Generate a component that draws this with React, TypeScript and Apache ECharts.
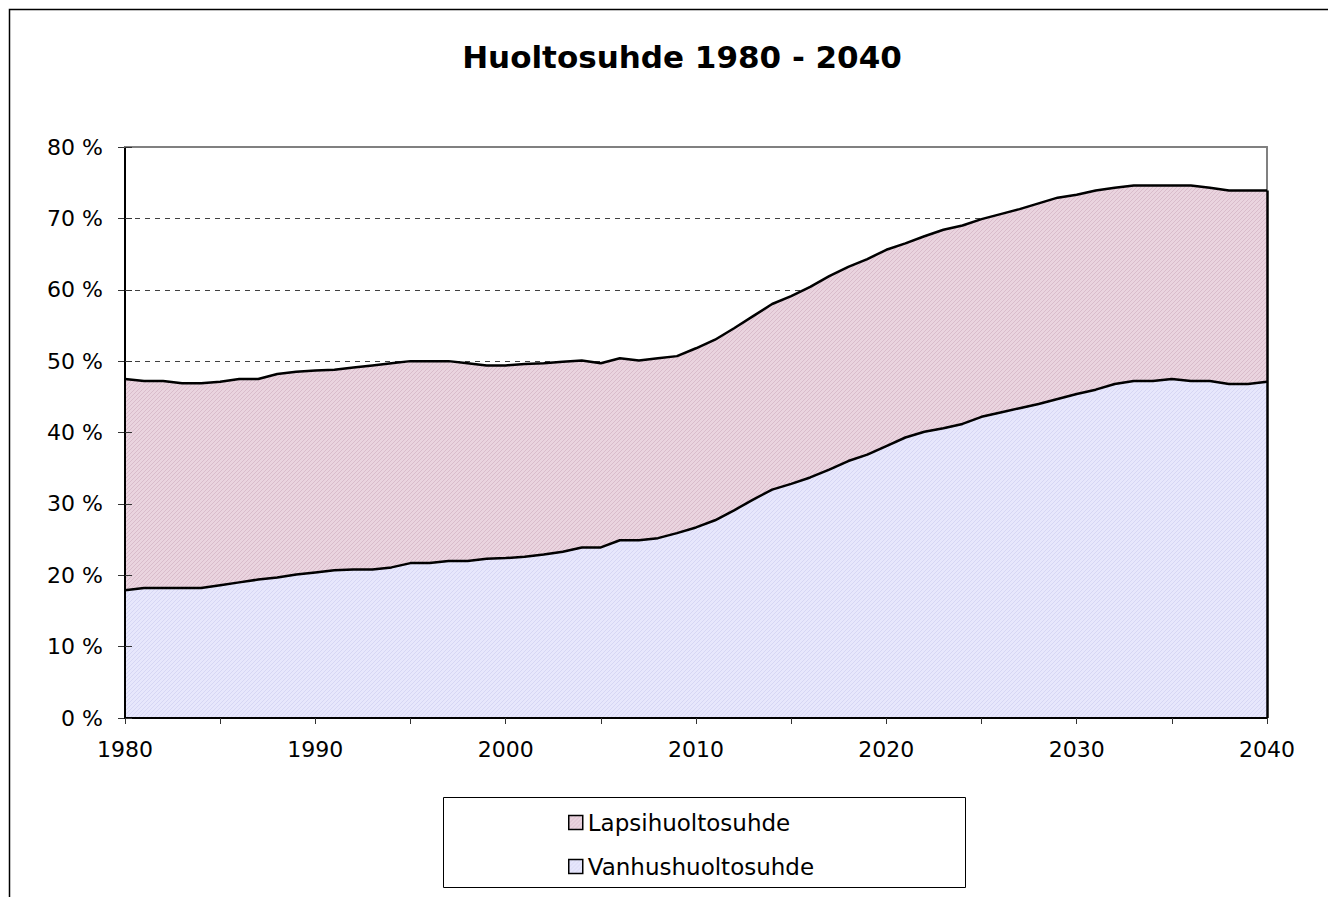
import React, { useEffect, useRef } from "react";
import * as echarts from "echarts";

const TITLE = "Huoltosuhde 1980 - 2040";
const SERIES_NAMES = ["Lapsihuoltosuhde", "Vanhushuoltosuhde"];

const years: number[] = Array.from({ length: 61 }, (_, i) => 1980 + i);

// Vanhushuoltosuhde (old-age dependency ratio, %)
const vanhus: number[] = [
  17.9, 18.2, 18.2, 18.2, 18.2, 18.6, 19.0, 19.4, 19.7, 20.1,
  20.4, 20.7, 20.8, 20.8, 21.1, 21.7, 21.7, 22.0, 22.0, 22.3,
  22.4, 22.6, 22.9, 23.3, 23.9, 23.9, 24.9, 24.9, 25.2, 25.9,
  26.7, 27.7, 29.1, 30.6, 32.0, 32.8, 33.7, 34.8, 36.0, 36.9,
  38.1, 39.3, 40.1, 40.6, 41.2, 42.2, 42.8, 43.4, 44.0, 44.7,
  45.4, 46.0, 46.8, 47.2, 47.2, 47.5, 47.2, 47.2, 46.8, 46.8,
  47.1,
];

// Lapsihuoltosuhde (child dependency ratio, %), stacked on top
const lapsi: number[] = [
  29.6, 29.0, 29.0, 28.7, 28.7, 28.5, 28.5, 28.1, 28.5, 28.4,
  28.3, 28.1, 28.3, 28.6, 28.6, 28.3, 28.3, 28.0, 27.7, 27.1,
  27.0, 27.0, 26.8, 26.6, 26.2, 25.8, 25.5, 25.2, 25.2, 24.8,
  25.1, 25.3, 25.5, 25.7, 26.0, 26.3, 26.7, 27.1, 27.2, 27.4,
  27.5, 27.2, 27.4, 27.8, 27.8, 27.7, 27.8, 27.9, 28.1, 28.2,
  27.9, 27.9, 27.5, 27.4, 27.4, 27.1, 27.4, 27.1, 27.1, 27.1,
  26.8,
];

const Y_MIN = 0;
const Y_MAX = 80;
const Y_STEP = 10;

const LAPSI_BASE = "#EAD4DF";
const LAPSI_STRIPE = "#D9BCCB";
const VANHUS_BASE = "#E7E7FC";
const VANHUS_STRIPE = "#D6D6F4";
const FONT = '"DejaVu Sans", "Liberation Sans", sans-serif';

function makeHatch(base: string, stripe: string): any {
  const size = 4;
  const c = document.createElement("canvas");
  c.width = size;
  c.height = size;
  const ctx = c.getContext("2d");
  if (!ctx) return base;
  ctx.fillStyle = base;
  ctx.fillRect(0, 0, size, size);
  ctx.fillStyle = stripe;
  for (let i = 0; i < size; i++) {
    ctx.fillRect(size - 1 - i, i, 1, 1);
  }
  return { image: c, repeat: "repeat" };
}

export default function App() {
  const ref = useRef<HTMLDivElement>(null);

  useEffect(() => {
    if (!ref.current) return;
    const chart = echarts.init(ref.current, undefined, { renderer: "svg" });

    const lastIdx = years.length - 1;
    const lastTotal = +(vanhus[lastIdx] + lapsi[lastIdx]).toFixed(2);
    const cats = years.map(String);
    const lapsiFill = makeHatch(LAPSI_BASE, LAPSI_STRIPE);
    const vanhusFill = makeHatch(VANHUS_BASE, VANHUS_STRIPE);

    const option: any = {
      animation: false,
      backgroundColor: "#ffffff",
      textStyle: { fontFamily: FONT },
      grid: { left: 125, top: 147, right: 61, bottom: 179, containLabel: false },
      xAxis: [
        {
          type: "category",
          data: cats,
          boundaryGap: false,
          position: "bottom",
          z: 6,
          axisLine: { show: true, lineStyle: { color: "#000", width: 2 } },
          axisTick: {
            show: true,
            inside: false,
            length: 6,
            interval: (i: number) => i % 5 === 0,
            lineStyle: { color: "#333", width: 1 },
          },
          axisLabel: {
            show: true,
            margin: 20,
            fontSize: 22,
            color: "#000",
            fontFamily: FONT,
            interval: (i: number) => i % 10 === 0,
          },
          splitLine: { show: false },
        },
        {
          type: "value",
          min: 0,
          max: 1,
          position: "top",
          z: 6,
          axisLine: { show: true, onZero: false, lineStyle: { color: "#808080", width: 2 } },
          axisTick: { show: false },
          axisLabel: { show: false },
          splitLine: { show: false },
        },
      ],
      yAxis: [
        {
          type: "value",
          min: Y_MIN,
          max: Y_MAX,
          interval: Y_STEP,
          position: "left",
          axisLine: { show: false },
          axisTick: { show: true, inside: false, length: 7, lineStyle: { color: "#333", width: 1 } },
          axisLabel: {
            show: true,
            margin: 22,
            fontSize: 22,
            color: "#000",
            fontFamily: FONT,
            formatter: "{value} %",
          },
          splitLine: { show: true, lineStyle: { color: "#404040", width: 1, type: [5, 5] } },
        },
        {
          type: "value",
          min: Y_MIN,
          max: Y_MAX,
          interval: Y_STEP,
          position: "left",
          z: 6,
          axisLine: { show: true, onZero: false, lineStyle: { color: "#000", width: 2 } },
          axisTick: { show: true, inside: true, length: 7, lineStyle: { color: "#333", width: 1 } },
          axisLabel: { show: false },
          splitLine: { show: false },
        },
        {
          type: "value",
          min: Y_MIN,
          max: Y_MAX,
          position: "right",
          z: 1,
          axisLine: { show: true, onZero: false, lineStyle: { color: "#808080", width: 2 } },
          axisTick: { show: false },
          axisLabel: { show: false },
          splitLine: { show: false },
        },
      ],
      legend: {
        orient: "vertical",
        left: 568,
        top: 811,
        padding: 0,
        itemWidth: 14,
        itemHeight: 14,
        itemGap: 21,
        itemTextGap: 16,
        icon: "rect",
        itemStyle: { borderColor: "#000", borderWidth: 1.5 },
        textStyle: { fontSize: 23, color: "#000", fontFamily: FONT },
        data: [
          { name: SERIES_NAMES[0], itemStyle: { color: lapsiFill } },
          { name: SERIES_NAMES[1], itemStyle: { color: vanhusFill } },
        ],
      },
      series: [
        {
          name: SERIES_NAMES[1],
          type: "line",
          stack: "total",
          xAxisIndex: 0,
          yAxisIndex: 0,
          z: 3,
          symbol: "none",
          showSymbol: false,
          itemStyle: { color: VANHUS_BASE },
          lineStyle: { color: "#000", width: 2.5 },
          areaStyle: { color: vanhusFill, opacity: 1 },
          data: vanhus,
        },
        {
          name: SERIES_NAMES[0],
          type: "line",
          stack: "total",
          xAxisIndex: 0,
          yAxisIndex: 0,
          z: 2,
          symbol: "none",
          showSymbol: false,
          itemStyle: { color: LAPSI_BASE },
          lineStyle: { color: "#000", width: 2.5 },
          areaStyle: { color: lapsiFill, opacity: 1 },
          data: lapsi,
          markLine: {
            silent: true,
            symbol: ["none", "none"],
            label: { show: false },
            lineStyle: { color: "#000", width: 2.5, type: "solid" },
            data: [[{ coord: [lastIdx, 0] }, { coord: [lastIdx, lastTotal] }]],
          },
        },
      ],
      graphic: [
        {
          type: "polyline",
          silent: true,
          shape: { points: [[9.5, 897], [9.5, 9.5], [1328, 9.5]] },
          style: { stroke: "#000", lineWidth: 1.5, fill: "none" },
        },
        {
          type: "rect",
          silent: true,
          shape: { x: 443.5, y: 797.5, width: 522, height: 90 },
          style: { stroke: "#000", lineWidth: 1, fill: "none" },
        },
        {
          type: "text",
          silent: true,
          x: 682,
          y: 57,
          style: {
            text: TITLE,
            font: `bold 31px ${FONT}`,
            fill: "#000",
            align: "center",
            verticalAlign: "middle",
            textAlign: "center",
            textVerticalAlign: "middle",
          },
        },
      ],
    };

    chart.setOption(option);
    return () => chart.dispose();
  }, []);

  return (
    <div
      ref={ref}
      style={{ position: "fixed", left: 0, top: 0, width: 1328, height: 897, background: "#fff" }}
    />
  );
}
